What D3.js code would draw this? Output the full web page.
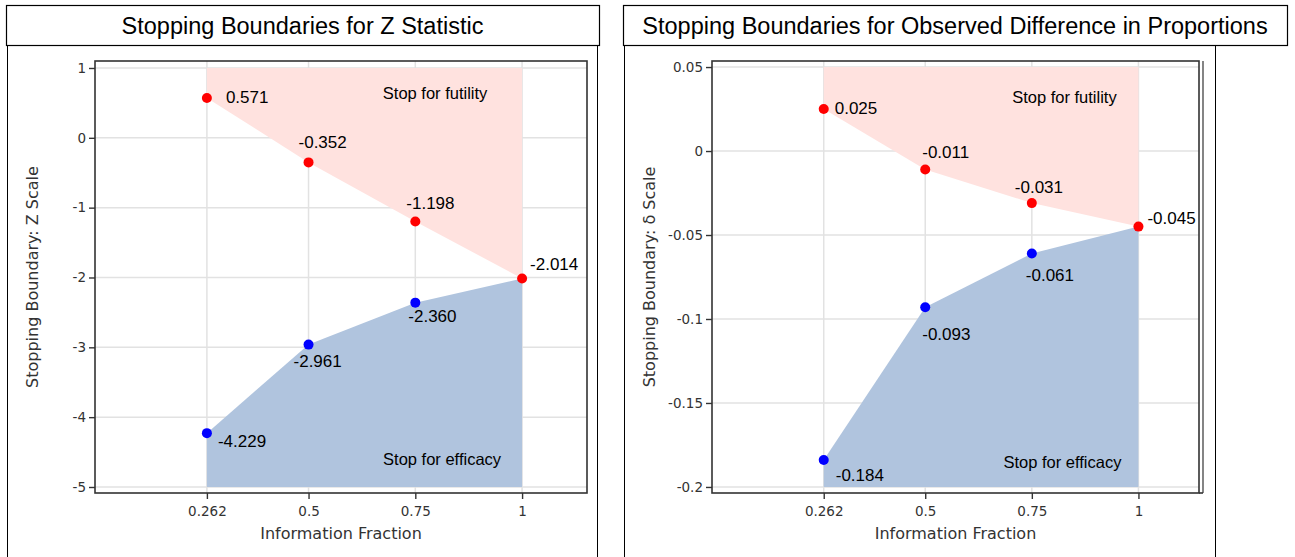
<!DOCTYPE html>
<html>
<head>
<meta charset="utf-8">
<script src="https://cdn.jsdelivr.net/npm/d3@7"></script>
<style>
  body { margin: 0; background: #fff; }
  svg { display: block; }
</style>
</head>
<body>
<svg></svg>
<script>
let width = 1295;
let height = 557;

const infoFraction = [0.262, 0.5, 0.75, 1];
const xTicks = [0.262, 0.5, 0.75, 1];

// Z statistic boundaries
const zFutility = [0.571, -0.352, -1.198, -2.014];
const zEfficacy = [-4.229, -2.961, -2.360, -2.014];
const zTicks = [1, 0, -1, -2, -3, -4, -5];

// observed difference boundaries
const dFutility = [0.025, -0.011, -0.031, -0.045];
const dEfficacy = [-0.184, -0.093, -0.061, -0.045];
const dTicks = [0.05, 0, -0.05, -0.1, -0.15, -0.2];

const panels = [
  {
    title: 'Stopping Boundaries for Z Statistic',
    ylabel: 'Stopping Boundary: Z Scale',
    box: [6, 599], side: [7, 597],
    plot: { left: 95, right: 587, top: 61, bottom: 493 },
    xDomain: [0, 1.152], yDomain: [-5.086, 1.1],
    futility: zFutility, efficacy: zEfficacy, ticks: zTicks,
    // label offsets, relative to point [dx, dy]
    futOff: [[19, 5], [-10, -14], [-9, -12], [8, -8]],
    effOff: [[11, 14], [-15, 22], [-7, 19], null],
    futText: [-87, 99], effText: [-80, 465],
    doubleRight: false
  },
  {
    title: 'Stopping Boundaries for Observed Difference in Proportions',
    ylabel: 'Stopping Boundary: \u03b4 Scale',
    box: [623, 1287], side: [624, 1215],
    plot: { left: 712, right: 1199, top: 61, bottom: 493 },
    xDomain: [0, 1.142], yDomain: [-0.2036, 0.0536],
    futility: dFutility, efficacy: dEfficacy, ticks: dTicks,
    futOff: [[11, 5], [-3, -12], [-17, -10], [9, -3]],
    effOff: [[12, 21], [-3, 33], [-6, 28], null],
    futText: [-74, 103], effText: [-76, 468],
    doubleRight: true
  }
];

let svg = d3.select('svg')
            .attr('width', width)
            .attr('height', height);

panels.forEach(drawPanel);

function drawPanel(p) {
  let g = svg.append('g');

  // title box and panel sides
  g.append('rect')
    .attr('x', p.box[0] + 0.5)
    .attr('y', 5.5)
    .attr('width', p.box[1] - p.box[0])
    .attr('height', 40)
    .attr('fill', 'none')
    .attr('stroke', '#000')
    .attr('stroke-width', 1.2);

  g.append('text')
    .attr('x', (p.box[0] + p.box[1]) / 2)
    .attr('y', 34)
    .attr('text-anchor', 'middle')
    .style('font-family', 'Liberation Sans, Arial, sans-serif')
    .style('font-size', '23.5px')
    .attr('fill', '#000')
    .text(p.title);

  p.side.forEach(sx => {
    g.append('line')
      .attr('x1', sx + 0.5).attr('x2', sx + 0.5)
      .attr('y1', 45).attr('y2', height)
      .attr('stroke', '#000')
      .attr('stroke-width', 1);
  });

  let x = d3.scaleLinear()
            .domain(p.xDomain)
            .range([p.plot.left, p.plot.right]);
  let y = d3.scaleLinear()
            .domain(p.yDomain)
            .range([p.plot.bottom, p.plot.top]);

  // grid
  g.append('g')
    .selectAll('line')
    .data(p.ticks)
    .enter()
    .append('line')
      .attr('x1', p.plot.left).attr('x2', p.plot.right)
      .attr('y1', d => y(d)).attr('y2', d => y(d))
      .attr('stroke', '#e2e2e2')
      .attr('stroke-width', 1.5);
  g.append('g')
    .selectAll('line')
    .data(xTicks)
    .enter()
    .append('line')
      .attr('x1', d => x(d)).attr('x2', d => x(d))
      .attr('y1', p.plot.top).attr('y2', p.plot.bottom)
      .attr('stroke', '#e2e2e2')
      .attr('stroke-width', 1.5);

  let top = d3.max(p.ticks);
  let bottom = d3.min(p.ticks);

  // futility and efficacy regions
  let futPts = [[infoFraction[0], top]]
    .concat(infoFraction.map((f, i) => [f, p.futility[i]]))
    .concat([[infoFraction[infoFraction.length - 1], top]]);
  let effPts = [[infoFraction[0], bottom]]
    .concat(infoFraction.map((f, i) => [f, p.efficacy[i]]))
    .concat([[infoFraction[infoFraction.length - 1], bottom]]);

  let area = d3.line().x(d => x(d[0])).y(d => y(d[1]));

  g.append('path')
    .attr('d', area(futPts) + 'Z')
    .attr('fill', '#ffe2df');
  g.append('path')
    .attr('d', area(effPts) + 'Z')
    .attr('fill', '#b0c4de');

  // frame
  g.append('rect')
    .attr('x', p.plot.left)
    .attr('y', p.plot.top)
    .attr('width', p.plot.right - p.plot.left)
    .attr('height', p.plot.bottom - p.plot.top)
    .attr('fill', 'none')
    .attr('stroke', '#333')
    .attr('stroke-width', 1.6);
  if (p.doubleRight) {
    g.append('line')
      .attr('x1', p.plot.right + 4).attr('x2', p.plot.right + 4)
      .attr('y1', p.plot.top).attr('y2', p.plot.bottom)
      .attr('stroke', '#333')
      .attr('stroke-width', 1.2);
    g.append('line')
      .attr('x1', p.plot.right).attr('x2', p.plot.right + 4)
      .attr('y1', p.plot.bottom).attr('y2', p.plot.bottom)
      .attr('stroke', '#333')
      .attr('stroke-width', 1.6);
  }

  // axes
  let xAxis = d3.axisBottom(x)
                .tickValues(xTicks)
                .tickSize(6)
                .tickFormat(d => d);
  let yAxis = d3.axisLeft(y)
                .tickValues(p.ticks)
                .tickSize(6)
                .tickFormat(d => String(d));

  let gx = g.append('g')
            .attr('transform', `translate(0, ${p.plot.bottom})`)
            .call(xAxis);
  let gy = g.append('g')
            .attr('transform', `translate(${p.plot.left}, 0)`)
            .call(yAxis);
  [gx, gy].forEach(ax => {
    ax.select('.domain').remove();
    ax.selectAll('line').attr('stroke', '#333').attr('stroke-width', 1.4);
    ax.selectAll('text')
      .style('font-family', 'DejaVu Sans, Verdana, sans-serif')
      .style('font-size', '13.5px')
      .attr('fill', '#333');
  });
  gx.selectAll('text').attr('dy', '1.05em');
  gy.selectAll('text').attr('x', -9);

  g.append('text')
    .attr('x', (p.plot.left + p.plot.right) / 2)
    .attr('y', 539)
    .attr('text-anchor', 'middle')
    .style('font-family', 'DejaVu Sans, Verdana, sans-serif')
    .style('font-size', '16px')
    .attr('fill', '#333')
    .text('Information Fraction');

  g.append('text')
    .attr('transform', `translate(${p.plot.left - 57}, ${(p.plot.top + p.plot.bottom) / 2}) rotate(-90)`)
    .attr('text-anchor', 'middle')
    .style('font-family', 'DejaVu Sans, Verdana, sans-serif')
    .style('font-size', '16px')
    .attr('fill', '#333')
    .text(p.ylabel);

  // region labels
  g.append('text')
    .attr('x', x(1) + p.futText[0])
    .attr('y', p.futText[1])
    .attr('text-anchor', 'middle')
    .style('font-family', 'Liberation Sans, Arial, sans-serif')
    .style('font-size', '16.5px')
    .text('Stop for futility');
  g.append('text')
    .attr('x', x(1) + p.effText[0])
    .attr('y', p.effText[1])
    .attr('text-anchor', 'middle')
    .style('font-family', 'Liberation Sans, Arial, sans-serif')
    .style('font-size', '16.5px')
    .text('Stop for efficacy');

  // points
  let fut = infoFraction.map((f, i) => ({ f: f, v: p.futility[i], off: p.futOff[i] }));
  let eff = infoFraction.map((f, i) => ({ f: f, v: p.efficacy[i], off: p.effOff[i] }))
                        .filter(d => d.off);

  g.append('g')
    .selectAll('circle')
    .data(eff)
    .enter()
    .append('circle')
      .attr('cx', d => x(d.f))
      .attr('cy', d => y(d.v))
      .attr('r', 5)
      .attr('fill', '#0000ff');
  g.append('g')
    .selectAll('circle')
    .data(fut)
    .enter()
    .append('circle')
      .attr('cx', d => x(d.f))
      .attr('cy', d => y(d.v))
      .attr('r', 5)
      .attr('fill', '#ff0000');

  g.append('g')
    .selectAll('text')
    .data(fut.concat(eff))
    .enter()
    .append('text')
      .attr('x', d => x(d.f) + d.off[0])
      .attr('y', d => y(d.v) + d.off[1])
      .style('font-family', 'Liberation Sans, Arial, sans-serif')
      .style('font-size', '17px')
      .attr('fill', '#000')
      .text(d => d.v.toFixed(3));
}
</script>
</body>
</html>
